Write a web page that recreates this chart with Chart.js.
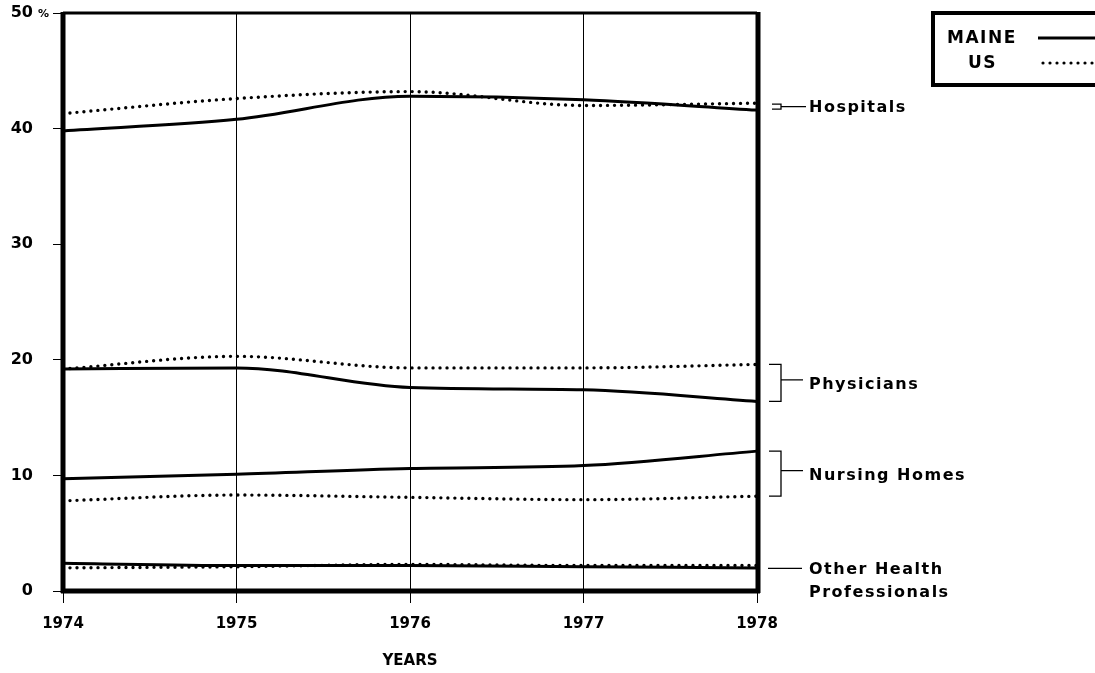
<!DOCTYPE html>
<html>
<head>
<meta charset="utf-8">
<script src="https://cdn.jsdelivr.net/npm/chart.js@4"></script>
<style>
  html, body { margin: 0; padding: 0; background: #fff; }
  #wrap { width: 1095px; height: 673px; position: relative; }
</style>
</head>
<body>
<div id="wrap"><canvas id="chart"></canvas></div>
<script>
const years = ['1974', '1975', '1976', '1977', '1978'];
const yTicks = [0, 10, 20, 30, 40, 50];

const maineHospitals = [39.8, 40.8, 42.8, 42.5, 41.6];
const usHospitals = [41.3, 42.6, 43.2, 42.0, 42.2];
const mainePhysicians = [19.2, 19.3, 17.6, 17.4, 16.4];
const usPhysicians = [19.2, 20.3, 19.3, 19.3, 19.6];
const maineNursing = [9.7, 10.1, 10.6, 10.85, 12.1];
const usNursing = [7.8, 8.3, 8.1, 7.9, 8.2];
const maineOther = [2.4, 2.2, 2.2, 2.1, 2.0];
const usOther = [2.0, 2.1, 2.3, 2.2, 2.2];

const groups = [
  { label: ['Hospitals'], maine: maineHospitals, us: usHospitals },
  { label: ['Physicians'], maine: mainePhysicians, us: usPhysicians },
  { label: ['Nursing Homes'], maine: maineNursing, us: usNursing },
  { label: ['Other Health', 'Professionals'], maine: maineOther, us: usOther },
];

const FONT = '"DejaVu Sans", sans-serif';

function maineSet(data) {
  return {
    data, borderColor: '#000', borderWidth: 3, pointRadius: 0,
    cubicInterpolationMode: 'monotone', fill: false,
  };
}
function usSet(data) {
  return {
    data, borderColor: '#000', borderWidth: 3.4, pointRadius: 0,
    borderDash: [0, 7], borderCapStyle: 'round',
    cubicInterpolationMode: 'monotone', fill: false,
  };
}

const datasets = [];
groups.forEach((g) => { datasets.push(maineSet(g.maine)); datasets.push(usSet(g.us)); });

// thick frame around plot, right-side labels, legend box
const decor = {
  id: 'decor',
  afterDatasetsDraw(chart) {
    const { ctx, chartArea: a, scales: { y } } = chart;
    ctx.save();
    ctx.strokeStyle = '#000';
    ctx.lineCap = 'butt';
    ctx.lineWidth = 3;
    ctx.beginPath(); ctx.moveTo(a.left, a.top); ctx.lineTo(a.right, a.top); ctx.stroke();
    ctx.lineWidth = 5;
    ctx.beginPath(); ctx.moveTo(a.left, a.top - 1); ctx.lineTo(a.left, a.bottom + 2); ctx.stroke();
    ctx.beginPath(); ctx.moveTo(a.left - 2, a.bottom); ctx.lineTo(a.right + 3, a.bottom); ctx.stroke();
    ctx.beginPath(); ctx.moveTo(a.right + 1, a.top - 1); ctx.lineTo(a.right + 1, a.bottom + 2); ctx.stroke();

    // small % by the 50
    ctx.fillStyle = '#000';
    ctx.font = 'bold 11px ' + FONT;
    ctx.textBaseline = 'middle';
    ctx.textAlign = 'left';
    ctx.fillText('%', 38, y.getPixelForValue(50) + 1);

    // group labels with brackets
    ctx.font = 'bold 16px ' + FONT;
    ctx.letterSpacing = '1.5px';
    ctx.lineWidth = 1.3;
    const last = years.length - 1;
    groups.forEach((g, i) => {
      const y1 = y.getPixelForValue(Math.max(g.maine[last], g.us[last]));
      const y2 = y.getPixelForValue(Math.min(g.maine[last], g.us[last]));
      let mid = (y1 + y2) / 2;
      const bx = 781;
      ctx.beginPath();
      if (i === 0) {
        ctx.moveTo(772, mid - 2.5); ctx.lineTo(781, mid - 2.5); ctx.lineTo(781, mid + 2.5); ctx.lineTo(772, mid + 2.5);
        ctx.moveTo(781, mid); ctx.lineTo(806, mid);
      } else if (i === 3) {
        mid = y.getPixelForValue(1.95);
        ctx.moveTo(768, mid); ctx.lineTo(802, mid);
      } else {
        ctx.moveTo(769, y1); ctx.lineTo(bx, y1); ctx.lineTo(bx, y2); ctx.lineTo(769, y2);
        ctx.moveTo(bx, mid - 3); ctx.lineTo(803, mid - 3);
        mid += 1;
      }
      ctx.stroke();
      g.label.forEach((t, k) => ctx.fillText(t, 809, mid + 1 + k * 23));
    });

    // legend
    ctx.font = 'bold 17px ' + FONT;
    ctx.letterSpacing = '1.5px';
    ctx.lineWidth = 4;
    ctx.strokeRect(933, 13, 180, 72);
    ctx.fillText('MAINE', 947, 39);
    ctx.fillText('US', 968, 64);
    ctx.lineWidth = 3;
    ctx.beginPath(); ctx.moveTo(1038, 38); ctx.lineTo(1100, 38); ctx.stroke();
    ctx.setLineDash([0, 7]);
    ctx.lineCap = 'round';
    ctx.lineWidth = 3.2;
    ctx.beginPath(); ctx.moveTo(1043, 63); ctx.lineTo(1100, 63); ctx.stroke();
    ctx.restore();
  },
};

new Chart(document.getElementById('chart'), {
  type: 'line',
  data: { labels: years, datasets },
  plugins: [decor],
  options: {
    responsive: true,
    maintainAspectRatio: false,
    animation: false,
    layout: { padding: { top: 13, right: 338, left: 0, bottom: 0 } },
    plugins: { legend: { display: false }, tooltip: { enabled: false } },
    scales: {
      x: {
        type: 'category',
        offset: false,
        afterFit: (s) => { s.height = 82; s.paddingLeft = 0; s.paddingRight = 0; },
        border: { display: false },
        grid: { color: '#000', lineWidth: 1, tickLength: 12, offset: false },
        ticks: { color: '#000', font: { family: FONT, weight: 'bold', size: 15 }, padding: 12, maxRotation: 0 },
        title: {
          display: true, text: 'YEARS', color: '#000',
          font: { family: FONT, weight: 'bold', size: 15 },
          padding: { top: 0, bottom: 3 },
        },
      },
      y: {
        min: 0, max: 50,
        afterFit: (s) => { s.width = 63; s.paddingTop = 0; s.paddingBottom = 0; },
        afterBuildTicks: (s) => { s.ticks = yTicks.map((v) => ({ value: v })); },
        border: { display: false },
        grid: { drawOnChartArea: false, color: '#000', lineWidth: 1, tickLength: 10 },
        ticks: { color: '#000', font: { family: FONT, weight: 'bold', size: 16 }, padding: 20 },
      },
    },
  },
});
</script>
</body>
</html>
